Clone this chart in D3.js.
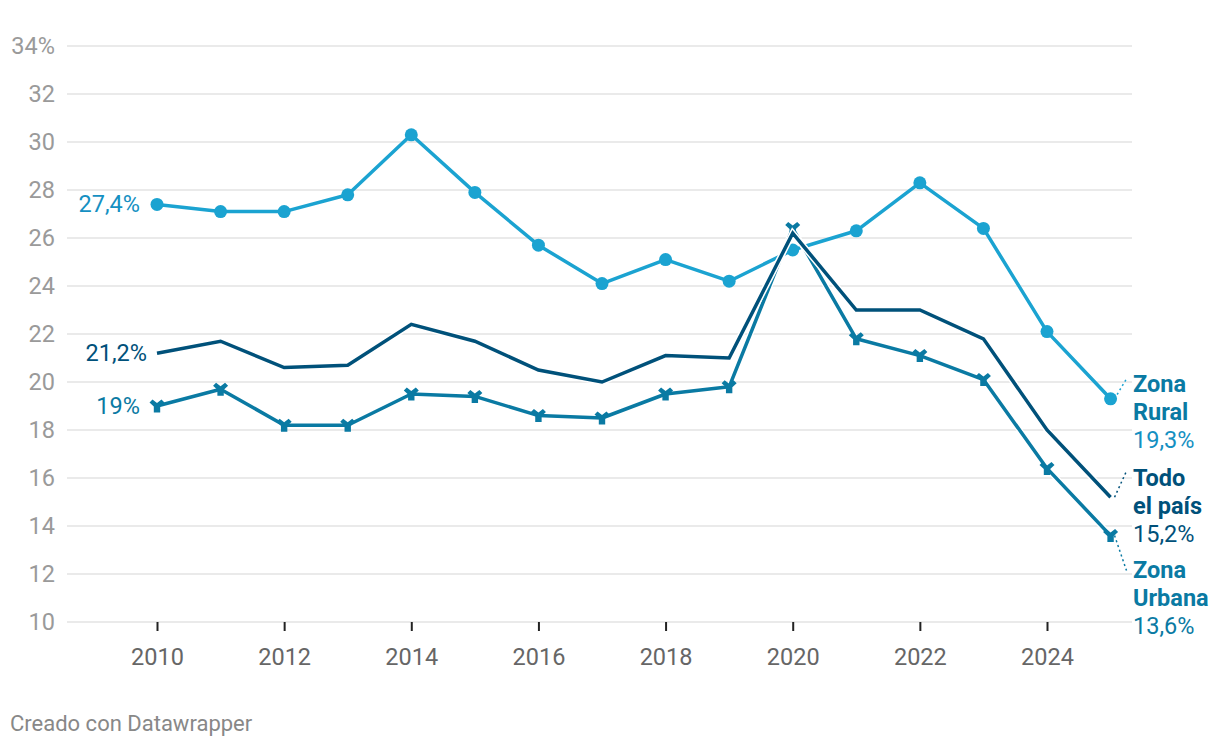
<!DOCTYPE html>
<html><head><meta charset="utf-8">
<script src="https://cdn.jsdelivr.net/npm/d3@7"></script>
<style>
body{margin:0;background:#fff;font-family:Roboto,"Noto Sans",sans-serif;}
</style></head>
<body><svg id="c" width="1220" height="748"></svg>
<script>
const years = [2010,2011,2012,2013,2014,2015,2016,2017,2018,2019,2020,2021,2022,2023,2024,2025];
const rural = [27.4,27.1,27.1,27.8,30.3,27.9,25.7,24.1,25.1,24.2,25.5,26.3,28.3,26.4,22.1,19.3];
const national = [21.2,21.7,20.6,20.7,22.4,21.7,20.5,20.0,21.1,21.0,26.2,23.0,23.0,21.8,18.0,15.2];
const urban = [19.0,19.7,18.2,18.2,19.5,19.4,18.6,18.5,19.5,19.8,26.4,21.8,21.1,20.1,16.4,13.6];
const yTicks = [10,12,14,16,18,20,22,24,26,28,30,32,34];
const xTicks = [2010,2012,2014,2016,2018,2020,2022,2024];

const cRural = "#1ba3d1", cRuralTxt = "#1590c2", cNat = "#00517a", cUrb = "#0a7aa3";
const FS = 23.5, FE = 23.5;
const svg = d3.select("#c");
const x = d3.scaleLinear().domain([2010,2024]).range([157,1047]);
const y = d3.scaleLinear().domain([10,34]).range([622,46]);

// gridlines
const g = svg.append("g");
g.selectAll("line.grid").data(yTicks).join("line")
  .attr("x1",67).attr("x2",1132).attr("y1",d=>y(d)).attr("y2",d=>y(d))
  .attr("stroke","#e3e3e3").attr("stroke-width",1.5);
g.selectAll("text.yt").data(yTicks).join("text")
  .attr("x",55).attr("y",d=>y(d)+8).attr("text-anchor","end")
  .attr("font-size",FS).attr("fill","#9a9a9a")
  .text(d=>d===34?"34%":d);

// x axis
const xAxis = d3.axisBottom(x).tickValues(xTicks).tickSize(9).tickPadding(17).tickFormat(d3.format("d"));
const xg = svg.append("g").attr("transform","translate(0,622)").call(xAxis);
xg.select(".domain").remove();
xg.selectAll(".tick line").attr("stroke","#222").attr("stroke-width",2);
xg.selectAll(".tick text").attr("font-size",FS).attr("fill","#666").attr("font-family","Roboto");

const line = d3.line().x((d,i)=>x(years[i])).y(d=>y(d));

// connectors (dotted)
function conn(v, yl, col){
  svg.append("line").attr("x1",x(2025)+4).attr("y1",y(v)).attr("x2",1127).attr("y2",yl)
    .attr("stroke",col).attr("stroke-width",1.5).attr("stroke-dasharray","2,3");
}
conn(rural[15], 378, cRural);
conn(national[15], 470, cNat);
conn(urban[15], 572, cUrb);

// lines
svg.append("path").datum(rural).attr("d",line).attr("fill","none").attr("stroke",cRural).attr("stroke-width",3.5).attr("stroke-linejoin","round");
svg.selectAll("circle.r").data(rural).join("circle")
  .attr("cx",(d,i)=>x(years[i])).attr("cy",d=>y(d)).attr("r",6.5).attr("fill",cRural);

svg.append("path").datum(urban).attr("d",line).attr("fill","none").attr("stroke","#fff").attr("stroke-width",6).attr("stroke-linejoin","round");
svg.append("path").datum(urban).attr("d",line).attr("fill","none").attr("stroke",cUrb).attr("stroke-width",3.5).attr("stroke-linejoin","round");
const mk = "M-7.5,-3.5 L-4.5,-6.5 L0,-3 L4.5,-6.5 L7.5,-3.5 L3.2,0.5 L3.2,6.5 L-3.2,6.5 L-3.2,0.5 Z";
svg.selectAll("path.u").data(urban).join("path")
  .attr("d",mk).attr("transform",(d,i)=>`translate(${x(years[i])},${y(d)})`).attr("fill",cUrb);

svg.append("path").datum(national).attr("d",line).attr("fill","none").attr("stroke","#fff").attr("stroke-width",6.5).attr("stroke-linejoin","miter");
svg.append("path").datum(national).attr("d",line).attr("fill","none").attr("stroke",cNat).attr("stroke-width",3.5).attr("stroke-linejoin","miter");

// start labels
function lab(txt, xx, yy, col, bold, anchor, fs){
  svg.append("text").attr("x",xx).attr("y",yy).attr("fill",col).attr("font-size",fs||FE)
    .attr("font-weight",bold?700:400).attr("text-anchor",anchor||"start").text(txt);
}
lab("27,4%", x(2010)-17, y(rural[0])+8, cRuralTxt, false, "end", FS);
lab("21,2%", x(2010)-10, y(national[0])+8, cNat, false, "end", FS);
lab("19%", x(2010)-17, y(urban[0])+8, cUrb, false, "end", FS);

// end labels
lab("Zona", 1133, 392, "#0a7aa3", true);
lab("Rural", 1133, 420, "#0a7aa3", true);
lab("19,3%", 1133, 448, cRuralTxt, false);
lab("Todo", 1133, 486, cNat, true);
lab("el país", 1133, 514, cNat, true);
lab("15,2%", 1133, 542, cNat, false);
lab("Zona", 1133, 578, cUrb, true);
lab("Urbana", 1133, 606, cUrb, true);
lab("13,6%", 1133, 634, cUrb, false);

svg.append("text").attr("x",10).attr("y",731).attr("font-size",22).attr("fill","#888").text("Creado con Datawrapper");
</script></body></html>
